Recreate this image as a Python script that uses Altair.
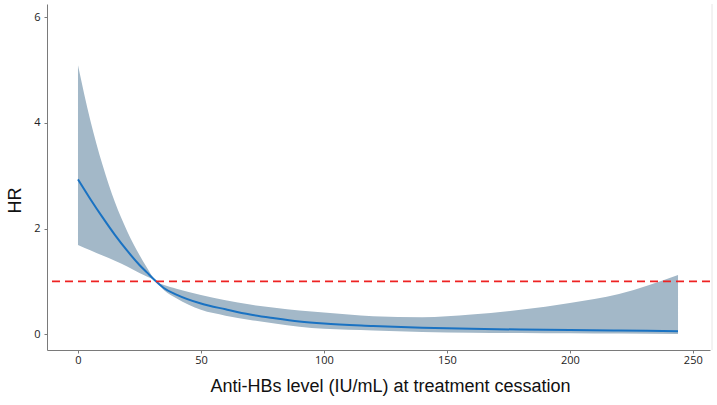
import altair as alt
import pandas as pd

# Anti-HBs level (IU/mL) and the hazard ratio with its 95% confidence band
anti_hbs = [0, 5, 10, 15, 20, 25, 28, 31.7, 35, 40, 50, 60, 70, 80, 90, 100,
            120, 140, 160, 180, 200, 220, 244]
hr = [2.93, 2.56, 2.21, 1.88, 1.58, 1.31, 1.17, 1.00, 0.87, 0.75, 0.58, 0.47,
      0.37, 0.30, 0.24, 0.20, 0.155, 0.12, 0.10, 0.088, 0.078, 0.068, 0.057]
hr_upper = [5.09, 4.05, 3.20, 2.50, 1.95, 1.50, 1.26, 1.00, 0.93, 0.86, 0.74,
            0.64, 0.56, 0.50, 0.45, 0.41, 0.34, 0.32, 0.37, 0.46, 0.59, 0.76, 1.12]
hr_lower = [1.69, 1.59, 1.49, 1.39, 1.28, 1.16, 1.09, 1.00, 0.83, 0.68, 0.46,
            0.35, 0.27, 0.20, 0.14, 0.10, 0.07, 0.04, 0.025, 0.02, 0.015, 0.01, 0.005]

x_ticks = [0, 50, 100, 150, 200, 250]
y_ticks = [0, 2, 4, 6]
reference_hr = 1

df = pd.DataFrame({"x": anti_hbs, "hr": hr, "lo": hr_lower, "hi": hr_upper})

x_scale = alt.Scale(domain=[-12.6, 257], nice=False, zero=False)
y_scale = alt.Scale(domain=[-0.30, 6.25], nice=False, zero=False)

x_axis = alt.Axis(
    title="Anti-HBs level (IU/mL) at treatment cessation",
    values=x_ticks, grid=False, domainColor="#7a7a7a", tickColor="#7a7a7a",
    tickSize=3, labelFont="Open Sans", labelFontSize=11, labelColor="#222222",
    labelPadding=1, titleFont="Liberation Sans", titleFontSize=18,
    titleFontWeight="normal", titleColor="#111111", titlePadding=12, titleX=343,
)
y_axis = alt.Axis(
    title="HR", values=y_ticks, grid=False, domainColor="#7a7a7a",
    tickColor="#7a7a7a", tickSize=3, labelFont="Open Sans", labelFontSize=11,
    labelColor="#222222", labelPadding=4, titleFont="Liberation Sans",
    titleFontSize=18, titleFontWeight="normal", titleColor="#111111",
    titlePadding=9, titleY=196,
)

base = alt.Chart(df)

band = base.mark_area(color="#a3b8c8", opacity=1, interpolate="monotone").encode(
    x=alt.X("x:Q", scale=x_scale, axis=x_axis),
    y=alt.Y("lo:Q", scale=y_scale, axis=y_axis),
    y2="hi:Q",
)

line = base.mark_line(color="#1a72c2", strokeWidth=2, interpolate="monotone").encode(
    x=alt.X("x:Q", scale=x_scale),
    y=alt.Y("hr:Q", scale=y_scale),
)

ref = alt.Chart(pd.DataFrame({"y": [reference_hr]})).mark_rule(
    color="#ee2222", strokeWidth=1.6, strokeDash=[8, 5]
).encode(y=alt.Y("y:Q", scale=y_scale))

edge = alt.Chart(pd.DataFrame({"v": [0]})).mark_rule(
    color="#e6e6e6", strokeWidth=1
).encode(x=alt.value(665), y=alt.value(0), y2=alt.value(346))

chart = (
    alt.layer(band, line, ref, edge)
    .properties(
        width=663,
        height=346,
        autosize=alt.AutoSizeParams(type="none"),
        padding={"left": 47, "top": 4, "right": 7, "bottom": 55},
        background="white",
    )
    .configure_view(stroke=None)
)

chart.save("out.html", embed_options={"renderer": "svg", "actions": False})
